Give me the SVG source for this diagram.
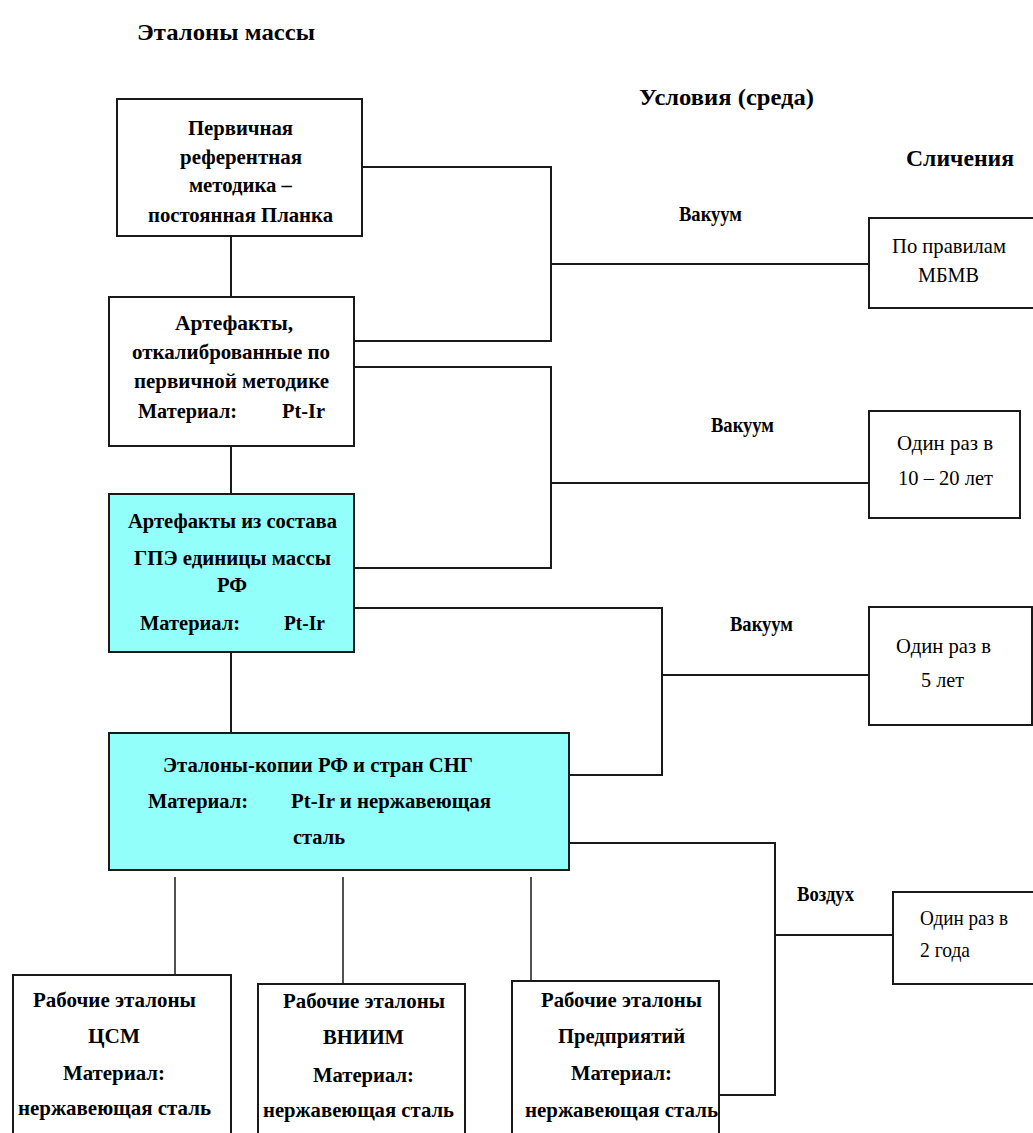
<svg xmlns="http://www.w3.org/2000/svg" width="1033" height="1133" viewBox="0 0 1033 1133">
<style>
.b{fill:#fff;stroke:#1a1a1a;stroke-width:2}
.c{fill:#92fffa;stroke:#1a1a1a;stroke-width:2}
.t{font-family:"Liberation Serif","Times New Roman","DejaVu Serif",serif;font-weight:bold;font-size:21px;fill:#000}
.r{font-family:"Liberation Serif","Times New Roman","DejaVu Serif",serif;font-size:21px;fill:#000}
.h{font-family:"Liberation Serif","Times New Roman","DejaVu Serif",serif;font-weight:bold;font-size:23px;fill:#000}
.ln{fill:none;stroke:#1a1a1a;stroke-width:2}
.th{fill:none;stroke:#1a1a1a;stroke-width:1.5}
</style>
<rect width="1033" height="1133" fill="#fff"/>
<g id="headers">
<text class="h" x="137" y="40" textLength="178" lengthAdjust="spacingAndGlyphs">Эталоны массы</text>
<text class="h" x="639" y="105" textLength="175" lengthAdjust="spacingAndGlyphs">Условия (среда)</text>
<text class="h" x="906" y="166" textLength="108" lengthAdjust="spacingAndGlyphs">Сличения</text>
</g>
<g id="connectors">
<path class="ln" d="M231,236 V297 M231,446 V494 M231,652 V733"/>
<path class="ln" d="M362,167 H551 V341 H354 M551,264 H869"/>
<path class="ln" d="M354,367 H551 V568 H354 M551,483 H869"/>
<path class="ln" d="M354,608 H662 V775 H569 M662,675 H869"/>
<path class="ln" d="M569,843 H775 V1095 H719 M775,935 H893"/>
<path class="th" d="M175,877 V975 M343,877 V984 M531,877 V981"/>
</g>
<g id="labels">
<text class="t" x="679" y="221" textLength="63" lengthAdjust="spacingAndGlyphs">Вакуум</text>
<text class="t" x="711" y="432" textLength="63" lengthAdjust="spacingAndGlyphs">Вакуум</text>
<text class="t" x="730" y="631" textLength="63" lengthAdjust="spacingAndGlyphs">Вакуум</text>
<text class="t" x="797" y="901" textLength="57" lengthAdjust="spacingAndGlyphs">Воздух</text>
</g>
<g id="node-primary">
<rect class="b" x="117" y="99" width="245" height="137"/>
<text class="t" x="188" y="135" textLength="105" lengthAdjust="spacingAndGlyphs">Первичная</text>
<text class="t" x="180" y="164" textLength="122" lengthAdjust="spacingAndGlyphs">референтная</text>
<text class="t" x="189" y="192" textLength="103" lengthAdjust="spacingAndGlyphs">методика –</text>
<text class="t" x="148" y="222" textLength="185" lengthAdjust="spacingAndGlyphs">постоянная Планка</text>
</g>
<g id="node-artefacts">
<rect class="b" x="109" y="297" width="245" height="149"/>
<text class="t" x="175" y="330" textLength="118" lengthAdjust="spacingAndGlyphs">Артефакты,</text>
<text class="t" x="132" y="359" textLength="198" lengthAdjust="spacingAndGlyphs">откалиброванные по</text>
<text class="t" x="134" y="388" textLength="195" lengthAdjust="spacingAndGlyphs">первичной методике</text>
<text class="t" x="138" y="418" textLength="99" lengthAdjust="spacingAndGlyphs">Материал:</text>
<text class="t" x="282" y="418" textLength="43" lengthAdjust="spacingAndGlyphs">Pt-Ir</text>
</g>
<g id="node-gpe">
<rect class="c" x="109" y="494" width="245" height="158"/>
<text class="t" x="128" y="528" textLength="209" lengthAdjust="spacingAndGlyphs">Артефакты из состава</text>
<text class="t" x="134" y="565" textLength="197" lengthAdjust="spacingAndGlyphs">ГПЭ единицы массы</text>
<text class="t" x="217" y="592" textLength="30" lengthAdjust="spacingAndGlyphs">РФ</text>
<text class="t" x="140" y="630" textLength="100" lengthAdjust="spacingAndGlyphs">Материал:</text>
<text class="t" x="284" y="630" textLength="41" lengthAdjust="spacingAndGlyphs">Pt-Ir</text>
</g>
<g id="node-copies">
<rect class="c" x="109" y="733" width="460" height="137"/>
<text class="t" x="163" y="772" textLength="310" lengthAdjust="spacingAndGlyphs">Эталоны-копии РФ и стран СНГ</text>
<text class="t" x="148" y="808" textLength="100" lengthAdjust="spacingAndGlyphs">Материал:</text>
<text class="t" x="291" y="808" textLength="200" lengthAdjust="spacingAndGlyphs">Pt-Ir и нержавеющая</text>
<text class="t" x="293" y="844" textLength="52" lengthAdjust="spacingAndGlyphs">сталь</text>
</g>
<g id="node-csm">
<rect class="b" x="13" y="975" width="218" height="170"/>
<text class="t" x="33" y="1007" textLength="163" lengthAdjust="spacingAndGlyphs">Рабочие эталоны</text>
<text class="t" x="88" y="1043" textLength="52" lengthAdjust="spacingAndGlyphs">ЦСМ</text>
<text class="t" x="63" y="1080" textLength="102" lengthAdjust="spacingAndGlyphs">Материал:</text>
<text class="t" x="18" y="1115" textLength="193" lengthAdjust="spacingAndGlyphs">нержавеющая сталь</text>
</g>
<g id="node-vniim">
<rect class="b" x="258" y="984" width="207" height="160"/>
<text class="t" x="283" y="1008" textLength="162" lengthAdjust="spacingAndGlyphs">Рабочие эталоны</text>
<text class="t" x="323" y="1044" textLength="81" lengthAdjust="spacingAndGlyphs">ВНИИМ</text>
<text class="t" x="313" y="1082" textLength="101" lengthAdjust="spacingAndGlyphs">Материал:</text>
<text class="t" x="263" y="1117" textLength="191" lengthAdjust="spacingAndGlyphs">нержавеющая сталь</text>
</g>
<g id="node-enterprises">
<rect class="b" x="512" y="981" width="207" height="164"/>
<text class="t" x="541" y="1007" textLength="161" lengthAdjust="spacingAndGlyphs">Рабочие эталоны</text>
<text class="t" x="558" y="1043" textLength="127" lengthAdjust="spacingAndGlyphs">Предприятий</text>
<text class="t" x="571" y="1080" textLength="101" lengthAdjust="spacingAndGlyphs">Материал:</text>
<text class="t" x="525" y="1117" textLength="193" lengthAdjust="spacingAndGlyphs">нержавеющая сталь</text>
</g>
<g id="node-bipm">
<rect class="b" x="869" y="218" width="175" height="90"/>
<text class="r" x="892" y="253" textLength="114" lengthAdjust="spacingAndGlyphs">По правилам</text>
<text class="r" x="918" y="282" textLength="61" lengthAdjust="spacingAndGlyphs">МБМВ</text>
</g>
<g id="node-10-20">
<rect class="b" x="869" y="411" width="151" height="107"/>
<text class="r" x="897" y="450" textLength="96" lengthAdjust="spacingAndGlyphs">Один раз в</text>
<text class="r" x="898" y="485" textLength="95" lengthAdjust="spacingAndGlyphs">10 – 20 лет</text>
</g>
<g id="node-5">
<rect class="b" x="869" y="607" width="163" height="118"/>
<text class="r" x="896" y="653" textLength="95" lengthAdjust="spacingAndGlyphs">Один раз в</text>
<text class="r" x="921" y="687" textLength="43" lengthAdjust="spacingAndGlyphs">5 лет</text>
</g>
<g id="node-2">
<rect class="b" x="893" y="892" width="150" height="92"/>
<text class="r" x="920" y="925" textLength="88" lengthAdjust="spacingAndGlyphs">Один раз в</text>
<text class="r" x="920" y="957" textLength="50" lengthAdjust="spacingAndGlyphs">2 года</text>
</g>
</svg>
